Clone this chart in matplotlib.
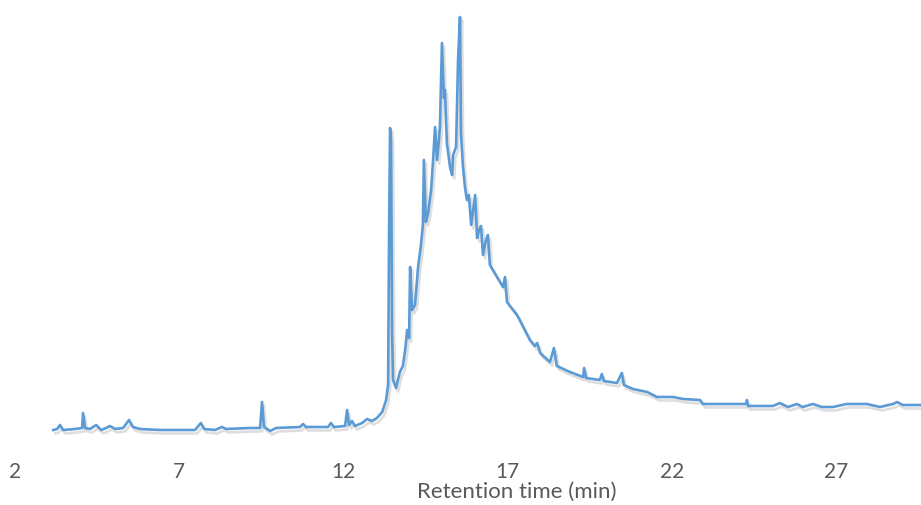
import matplotlib
matplotlib.use("Agg")
import matplotlib.pyplot as plt
import matplotlib.patheffects as pe

# Хроматограмма: время удерживания (мин) и сигнал (усл. ед.)
time_min = [3.16, 3.28, 3.37, 3.46, 3.83, 4.04, 4.07, 4.13, 4.28, 4.47,
            4.62, 4.77, 4.89, 5.05, 5.29, 5.47, 5.59, 5.81, 6.42, 7.48,
            7.66, 7.76, 8.09, 8.30, 8.43, 9.16, 9.46, 9.52, 9.58, 9.77,
            9.95, 10.68, 10.77, 10.86, 11.53, 11.62, 11.71, 12.05, 12.11, 12.17,
            12.26, 12.35, 12.57, 12.72, 12.87, 13.02, 13.18, 13.30, 13.36, 13.39,
            13.42, 13.45, 13.48, 13.51, 13.60, 13.72, 13.81, 13.88, 13.94, 14.00,
            14.03, 14.09, 14.18, 14.27, 14.36, 14.42, 14.45, 14.51, 14.58, 14.67,
            14.73, 14.79, 14.85, 14.91, 14.94, 15.00, 15.06, 15.09, 15.15, 15.25,
            15.31, 15.34, 15.43, 15.49, 15.55, 15.58, 15.64, 15.70, 15.76, 15.82,
            15.89, 15.95, 16.01, 16.07, 16.13, 16.19, 16.25, 16.34, 16.40, 16.46,
            16.68, 16.86, 16.92, 16.98, 17.29, 17.68, 17.83, 17.90, 17.99, 18.29,
            18.41, 18.50, 18.90, 19.30, 19.33, 19.39, 19.81, 19.87, 19.93, 20.33,
            20.48, 20.54, 20.82, 21.25, 21.55, 22.04, 22.34, 22.86, 22.95, 24.26,
            24.29, 24.32, 25.08, 25.29, 25.54, 25.81, 25.99, 26.30, 26.57, 26.91,
            27.33, 27.94, 28.34, 28.74, 28.86, 29.04, 29.59]
signal = [2, 3, 7, 2, 3, 4, 19, 4, 3, 7,
          2, 4, 6, 3, 4, 12, 5, 3, 2, 2,
          9, 3, 2, 5, 3, 4, 4, 30, 5, 1,
          4, 5, 8, 5, 5, 9, 5, 6, 22, 7,
          11, 6, 9, 13, 11, 14, 20, 32, 47, 202,
          304, 292, 102, 52, 44, 60, 66, 82, 102, 94,
          165, 122, 127, 164, 187, 207, 272, 210, 219, 242,
          272, 305, 272, 292, 307, 389, 334, 342, 289, 264,
          257, 277, 285, 372, 415, 299, 265, 245, 232, 237,
          207, 222, 237, 194, 202, 206, 177, 192, 197, 167,
          155, 145, 155, 130, 117, 92, 86, 89, 79, 70,
          84, 66, 60, 55, 64, 54, 52, 58, 51, 49,
          59, 47, 43, 40, 35, 35, 33, 32, 28, 28,
          32, 26, 26, 29, 25, 28, 25, 28, 25, 25,
          28, 28, 25, 28, 30, 27, 27]

tick_values = [2, 7, 12, 17, 22, 27]

fig = plt.figure(figsize=(9.21, 5.05), dpi=100)
ax = fig.add_axes([0, 1 - 440 / 505, 1, 435 / 505])

ax.plot(time_min, signal, color='#5B9BD5', linewidth=1.9, solid_joinstyle='round',
        path_effects=[pe.SimpleLineShadow(offset=(1.5, -2.5), shadow_color='#8a8a8a', alpha=0.28),
                      pe.Normal()])

ax.set_xlim(1.54, 29.59)
ax.set_ylim(-8, 427)
ax.set_xticks(tick_values)
ax.set_xticklabels([str(v) for v in tick_values], fontsize=15, color='#595959',
                   family=['Lato', 'DejaVu Sans'])
ax.tick_params(axis='x', length=0, pad=16)
ax.set_yticks([])
for s in ax.spines.values():
    s.set_visible(False)

fig.text(517 / 921, 1 - 492 / 505, 'Retention time (min)', ha='center', va='center',
         fontsize=16, color='#595959', family=['Lato', 'DejaVu Sans'])

fig.savefig('out.png', dpi=100)
